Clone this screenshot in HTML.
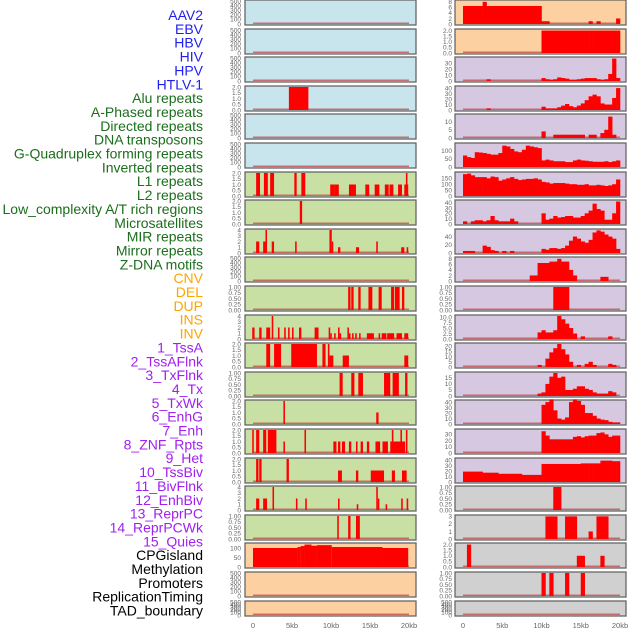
<!DOCTYPE html>
<html><head><meta charset="utf-8">
<style>
html,body{margin:0;padding:0;background:#fff;}
svg{display:block;font-family:"Liberation Sans",sans-serif;}
</style></head>
<body>
<svg id="chart" width="630" height="630" viewBox="0 0 630 630">
<g id="labels"></g>
<g id="panels"></g>
<g id="xaxes"></g>
</svg>
<script>
const trackNames = ["AAV2","EBV","HBV","HIV","HPV","HTLV-1","Alu repeats","A-Phased repeats","Directed repeats","DNA transposons","G-Quadruplex forming repeats","Inverted repeats","L1 repeats","L2 repeats","Low_complexity A/T rich regions","Microsatellites","MIR repeats","Mirror repeats","Z-DNA motifs","CNV","DEL","DUP","INS","INV","1_TssA","2_TssAFlnk","3_TxFlnk","4_Tx","5_TxWk","6_EnhG","7_Enh","8_ZNF_Rpts","9_Het","10_TssBiv","11_BivFlnk","12_EnhBiv","13_ReprPC","14_ReprPCWk","15_Quies","CPGisland","Methylation","Promoters","ReplicationTiming","TAD_boundary"];
const labelColors = ["#1f1fef","#1f1fef","#1f1fef","#1f1fef","#1f1fef","#1f1fef","#1b6e1b","#1b6e1b","#1b6e1b","#1b6e1b","#1b6e1b","#1b6e1b","#1b6e1b","#1b6e1b","#1b6e1b","#1b6e1b","#1b6e1b","#1b6e1b","#1b6e1b","#ffa500","#ffa500","#ffa500","#ffa500","#ffa500","#a020f0","#a020f0","#a020f0","#a020f0","#a020f0","#a020f0","#a020f0","#a020f0","#a020f0","#a020f0","#a020f0","#a020f0","#a020f0","#a020f0","#a020f0","#000","#000","#000","#000","#000"];
const E = ["0","100","200","300","400","500"];
const T2 = ["0.0","0.5","1.0","1.5","2.0"];
const T1 = ["0.00","0.25","0.50","0.75","1.00"];
const T4 = ["0","1","2","3","4"];
const leftBg = ["#c8e4ec","#c8e4ec","#c8e4ec","#c8e4ec","#c8e4ec","#c8e4ec","#c8e0a4","#c8e0a4","#c8e0a4","#c8e0a4","#c8e0a4","#c8e0a4","#c8e0a4","#c8e0a4","#c8e0a4","#c8e0a4","#c8e0a4","#c8e0a4","#c8e0a4","#fdd0a2","#fdd0a2","#fdd0a2"];
const leftTicks = [E,E,E,T2,E,E,T2,T2,T4,E,T1,T4,T2,T1,T2,T2,T2,T4,T1,["0","50","100"],E,E];
const leftYmax = [500,500,500,2,500,500,2,2,4,500,1,4,2,1,2,2,2,4,1,121,500,500];
const leftSegs = [
 [],[],[],
 [[4.6,7.1,2]],
 [],[],
 [[0.4,0.9,2],[1.4,1.9,2],[2.2,2.7,2],[5.3,5.6,2],[6.2,6.7,2],[9.9,10.5,1],[10.5,11,1],[12.3,13.2,1],[14.4,14.9,1],[15.6,16.2,1],[16.9,17.4,1],[17.5,18,1],[18.6,19.1,1],[19.4,19.9,1],[19.6,19.8,2]],
 [[6.0,6.3,2]],
 [[0.4,0.8,2],[1.3,1.6,2],[1.6,1.8,4],[2.4,2.7,2],[5.4,5.6,2],[9.8,10.1,4],[10.1,10.2,2],[10.9,11.2,1],[13.2,13.6,1],[15.8,16.0,2],[19.0,19.4,1],[19.7,19.9,1]],
 [],
 [[12.2,12.5,1],[12.6,12.9,1],[13.5,13.8,1],[14.8,15.3,1],[16.1,16.5,1],[17.7,18.1,1],[18.2,18.8,1],[19.1,19.4,1]],
 [[-0.1,0.2,2],[0.8,1.1,2],[1.7,2.2,2],[2.4,2.6,4],[3.2,3.4,2],[4.0,4.2,2],[4.5,4.7,2],[5.0,5.2,2],[5.9,6.2,2],[7.9,8.4,2],[9.7,9.9,2],[9.9,10.1,1],[10.4,10.6,1],[10.9,11.1,2],[11.1,11.3,1],[12.1,12.3,2],[12.3,12.5,1],[12.7,12.9,1],[13.1,13.3,1],[13.6,13.8,1],[14.6,15.5,1],[16.1,16.3,1],[16.5,17.1,1],[17.2,18.1,1],[18.4,19.1,1],[19.4,19.9,1]],
 [[1.7,2.2,2],[2.7,3.6,2],[4.9,8.2,2],[8.9,9.3,2],[9.6,9.8,2],[9.8,10.3,1],[11.5,12.3,1],[19.4,19.9,1]],
 [[11.1,11.5,1],[12.6,13.0,1],[13.5,14.1,1],[16.8,17.6,1],[17.9,18.7,1],[19.5,19.8,1]],
 [[3.9,4.1,2],[15.8,16.1,1]],
 [[-0.1,0.1,2],[0.4,0.8,2],[1.3,1.7,2],[1.9,3.0,2],[3.9,4.1,1],[6.6,6.8,2],[10.3,10.7,1],[10.9,11.2,1],[11.4,11.8,1],[12.3,12.6,1],[13.2,13.4,1],[13.8,14.1,1],[14.6,14.9,1],[15.7,16.3,1],[16.6,17.3,1],[17.6,19.5,1],[17.8,18.0,2],[18.9,19.1,2],[19.6,19.8,2]],
 [[0.4,0.7,2],[0.8,1.1,2],[4.3,4.6,2],[10.9,11.4,1],[13.2,13.5,1],[15.1,16.8,1],[17.8,18.2,1],[19.1,19.7,1]],
 [[0.4,0.8,2],[1.3,1.8,2],[2.5,2.7,4],[5.5,5.7,2],[6.7,6.9,2],[10.9,11.1,2],[13.3,13.5,1],[15.8,16.0,4],[16.0,16.2,2],[17.0,17.2,1],[19.0,19.2,2],[19.7,19.9,2]],
 [[10.8,11.0,1],[12.2,12.5,1],[13.2,13.7,1]],
 [[0,5.7,100],[5.7,6.1,105],[6.1,6.6,110],[6.6,7.5,118],[7.5,8.2,112],[8.2,10.1,115],[10.1,16.6,105],[16.6,19.9,100]],
 [],[]
];
const rightBg = ["#fdd0a2","#fdd0a2","#d7c8e2","#d7c8e2","#d7c8e2","#d7c8e2","#d7c8e2","#d7c8e2","#d7c8e2","#d7c8e2","#d7c8e2","#d7c8e2","#d7c8e2","#d7c8e2","#d7c8e2","#d7c8e2","#d7c8e2","#d0d0d0","#d0d0d0","#d0d0d0","#d0d0d0","#d0d0d0"];
const rightTicks = [["0","2","4","6","8"],T2,["0","10","20","30"],["0","10","20","30","40"],["0","5","10"],["0","50","100"],["0","50","100","150"],["0","10","20","30","40"],["0","20","40"],["0","2","4","6","8"],T1,["0.0","2.5","5.0","7.5","10.0"],["0","5","10","15","20"],["0","5","10","15"],["0","10","20","30","40"],["0","10","20","30"],["0","10","20","30","40"],T1,["0","1","2","3"],T2,T1,E];
const rightYmax = [8.3,2.05,39,42,14,140,195,43,56,8.3,1,10.5,22,19,42,37,42,1,3.05,2.05,1,500];
const rightBins = [
 [6.5,6.5,6.5,6.5,6.5,8,6.5,6.5,6.5,6.5,6.5,6.5,6.5,6.5,6.5,6.5,6.5,6.5,6.5,6.5,1,1,0,0,0,0,0,0,0,0,0,0,1,0,1,0,0,0,0,2],
 [0,0,0,0,0,0,0,0,0,0,0,0,0,0,0,0,0,0,0,0,2,2,2,2,2,2,2,2,2,2,2,2,2,2,2,2,2,2,2,2],
 [0,0,0,0,0,0,3,0,0,0,0,0,0,0,0,0,0,0,0,0,5,3,2,3,6,5,4,2,2,3,4,5,5,5,3,2,3,12,38,5],
 [0,0,0,0,0,0,3,0,0,0,0,0,0,0,0,0,0,0,0,0,6,3,3,3,5,8,11,7,5,8,12,18,25,28,25,12,10,10,22,40],
 [0,0,0,0,0,0,0,0,0,0,0,0,0,0,0,0,0,0,0,0,4,0,0,2,2,2,2,2,2,2,2,0,2,2,0,3,5,13,2,0],
 [70,60,55,90,88,85,80,75,75,85,130,125,110,95,90,105,130,125,120,115,40,45,40,35,35,35,30,30,40,45,40,38,35,32,32,32,35,30,35,40],
 [185,190,175,160,160,160,150,165,160,130,140,150,160,145,135,140,145,145,150,140,120,115,105,110,110,110,105,100,100,95,95,100,90,90,95,90,85,90,100,140],
 [5,0,5,7,7,5,7,15,7,5,5,5,10,5,0,0,0,0,0,0,20,8,10,15,12,13,15,15,12,12,15,20,25,38,28,25,8,8,20,42],
 [5,5,5,0,0,18,15,7,5,0,5,0,5,0,0,0,0,0,0,0,10,8,12,12,10,12,18,30,40,35,28,25,32,50,55,52,45,40,35,10],
 [0,0,0,0,0,0,0,0,0,0,0,0,0,0,0,0,0,2,2,6.5,6.5,6.5,7,7,8,7,7,4,2,0,0,0,0,0,0,1.5,1.5,0,0,0],
 [0,0,0,0,0,0,0,0,0,0,0,0,0,0,0,0,0,0,0,0,0,0,0,1,1,1,1,0,0,0,0,0,0,0,0,0,0,0,0,0],
 [0,0,0,0,0,0,0,0,0,0,0,0,0,0,0,0,0,0,0,3,4,3,3,4,10.5,9,7,5,2.5,0,1.2,0,0,0,0,0,0,1.2,0,0],
 [0,0,0,0,0,0,0,0,0,0,0,0,0,0,0,0,0,0,0,2,0,8,14,18,22,17,12,5,0,2,0,3,5,2,0,0,0,3,2,0],
 [0,0,0,0,0,0,0,0,0,0,0,0,0,0,0,0,0,0,0,2,3,10,16,19,15,16,5,5,6,8,8,6,5,3,2,2,2,4,3,0],
 [0,0,0,0,0,0,0,0,0,0,0,0,0,0,0,0,0,0,0,0,35,40,45,25,10,8,12,40,45,42,35,20,20,15,10,8,7,4,3,3],
 [0,0,0,0,0,0,0,0,0,0,0,0,0,0,0,0,0,0,0,0,35,28,22,22,22,22,22,22,26,27,25,27,28,28,32,33,30,26,28,28],
 [19,19,19,19,19,17,17,17,17,15,15,15,15,15,15,13,13,13,13,13,33,33,33,33,33,33,33,33,33,33,34,34,34,34,34,39,39,39,38,38],
 [0,0,0,0,0,0,0,0,0,0,0,0,0,0,0,0,0,0,0,0,0,0,0,1,1,0,0,0,0,0,0,0,0,0,0,0,0,0,0,0],
 [0,0,0,0,0,0,0,0,0,0,0,0,0,0,0,0,0,0,0,0,0,3,3,3,0,0,3,3,3,0,0,0,1,0,3,3,3,0,0,0],
 [0,2,0,0,0,0,0,0,0,0,0,0,0,0,0,0,0,0,0,0,0,0,0,0,0,0,0,0,0,1,1,0,0,0,0,1,0,0,0,0],
 [0,0,0,0,0,0,0,0,0,0,0,0,0,0,0,0,0,0,0,0,1,0,1,0,0,0,1,0,0,0,1,0,0,0,0,0,0,0,0,0],
 []
];
const xTickLabels = ["0","5kb","10kb","15kb","20kb"];
const xTickValues = [0,5,10,15,20];

const NS = "http://www.w3.org/2000/svg";
function mk(tag, attrs, parent){const e=document.createElementNS(NS,tag);for(const k in attrs)e.setAttribute(k,attrs[k]);parent.appendChild(e);return e;}
const gL=document.getElementById('labels'), gP=document.getElementById('panels'), gX=document.getElementById('xaxes');

trackNames.forEach((n,i)=>{
  const t=mk('text',{x:203,y:15+13.85*i+5,'text-anchor':'end','font-size':'14',fill:labelColors[i]},gL);
  t.textContent=n;
  
  
});

function rowTop(r){return Math.round(r*28.6);}
function rowH(r){return r===21?15:25;}

const cols=[{x0:245,x1:416,z:253,k:7.8,bg:leftBg,ticks:leftTicks,ym:leftYmax,tx:241,name:'left'},
            {x0:455,x1:626,z:463,k:7.85,bg:rightBg,ticks:rightTicks,ym:rightYmax,tx:452,name:'right'}];

cols.forEach((c,ci)=>{
  for(let r=0;r<22;r++){
    const top=rowTop(r), h=rowH(r);
    const g=mk('g',{},gP);
    
    
    const bg=mk('rect',{x:c.x0,y:top,width:c.x1-c.x0,height:h,fill:c.bg[r],stroke:'#666','stroke-width':1.3},g);
    
    
    const yb=top+h-1, yt=top+1, ym=c.ym[r];
    const yS=v=>yb-(v/ym)*(yb-yt);
    const xS=kb=>c.z+kb*c.k;
    // ticks
    c.ticks[r].forEach(s=>{
      const t=mk('text',{x:c.tx,y:yS(parseFloat(s))+2.3,'text-anchor':'end','font-size':'6.5',fill:'#666'},g);
      t.textContent=s;
      
      
    });
    // baseline
    const bl=mk('rect',{x:xS(0),y:yb-1.5,width:xS(20)-xS(0),height:1.5,fill:'#c04040',opacity:0.7},g);
    
    
    if(ci===0){
      leftSegs[r].forEach(s=>{
        const b=mk('rect',{x:xS(s[0]),y:yS(s[2]),width:Math.max(1.5,xS(s[1])-xS(s[0])),height:yb-yS(s[2]),fill:'#ff0000'},g);
        
        
      });
    } else {
      rightBins[r].forEach((v,i)=>{
        if(v<=0)return;
        const b=mk('rect',{x:xS(i*0.5),y:yS(v),width:xS(0.5)-xS(0)+0.3,height:yb-yS(v),fill:'#ff0000'},g);
        
        
      });
    }
  }
  xTickValues.forEach((v,i)=>{
    const t=mk('text',{x:c.z+v*c.k,y:628,'text-anchor':'middle','font-size':'7.5',fill:'#666'},gX);
    t.textContent=xTickLabels[i];
    
    
  });
});
</script>
</body></html>
